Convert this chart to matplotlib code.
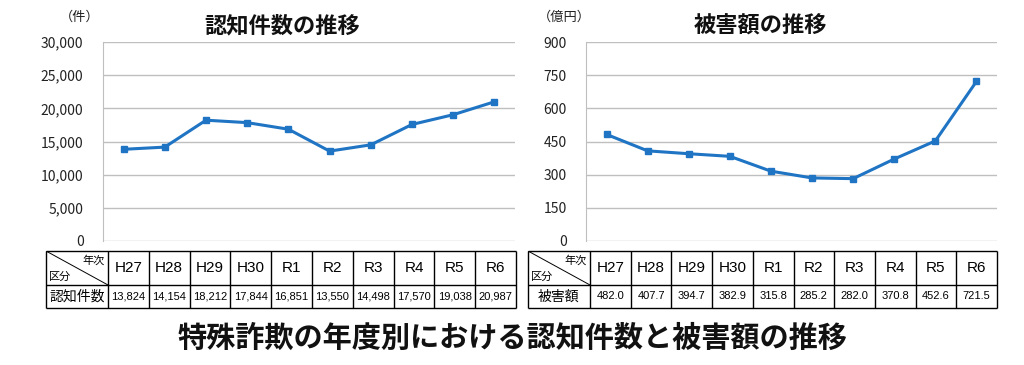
import matplotlib
matplotlib.use("Agg")
import matplotlib.pyplot as plt
from matplotlib.ticker import StrMethodFormatter

plt.rcParams['font.family'] = ['Noto Sans CJK JP', 'DejaVu Sans']

years = ["H27", "H28", "H29", "H30", "R1", "R2", "R3", "R4", "R5", "R6"]
cases = [13824, 14154, 18212, 17844, 16851, 13550, 14498, 17570, 19038, 20987]
damage = [482.0, 407.7, 394.7, 382.9, 315.8, 285.2, 282.0, 370.8, 452.6, 721.5]
case_labels = ["13,824", "14,154", "18,212", "17,844", "16,851",
               "13,550", "14,498", "17,570", "19,038", "20,987"]
damage_labels = ["482.0", "407.7", "394.7", "382.9", "315.8",
                 "285.2", "282.0", "370.8", "452.6", "721.5"]

W, H = 1024, 365
LINE = "#1f74c4"
GRID = "#bfbfbf"
LATIN = ['Liberation Sans', 'Noto Sans CJK JP']
NARROW = ['Liberation Sans Narrow', 'Liberation Sans', 'Noto Sans CJK JP']

fig = plt.figure(figsize=(W / 100, H / 100), dpi=100)


def px_axes(x0, y0, x1, y1):
    # pixel box (top-left origin) -> figure axes
    return fig.add_axes([x0 / W, 1 - y1 / H, (x1 - x0) / W, (y1 - y0) / H])


def line_chart(box, values, ymax, step, fmt, title, unit, title_x, unit_x):
    ax = px_axes(*box)
    ax.plot(range(len(values)), values, color=LINE, lw=2.2, marker="s",
            ms=5, clip_on=False)
    ax.set_xlim(-0.5, len(values) - 0.5)
    ax.set_ylim(0, ymax)
    ax.set_yticks(range(0, ymax + 1, step))
    ax.yaxis.set_major_formatter(StrMethodFormatter(fmt))
    ax.set_xticks([])
    ax.grid(axis="y", color=GRID, lw=1)
    ax.set_axisbelow(True)
    for s in ["top", "right", "bottom"]:
        ax.spines[s].set_visible(False)
    ax.spines["left"].set_color(GRID)
    ax.tick_params(axis="y", length=0, pad=14, labelsize=10, labelcolor="#222222")
    fig.text(title_x / W, 1 - 26 / H, title, ha="center", va="center",
             fontsize=16, fontweight="bold", color="#111111")
    fig.text(unit_x / W, 1 - 17 / H, unit, ha="center", va="center",
             fontsize=9.5, color="#222222")
    return ax


def table(x0, x_first, x1, row_label, labels):
    y0, ym, y1 = 251, 285, 308
    ax = px_axes(x0, y0, x1, y1)
    ax.set_xlim(x0, x1)
    ax.set_ylim(y1, y0)
    ax.axis("off")
    n = len(years)
    cw = (x1 - x_first) / n
    kw = dict(color="black", lw=1.0, clip_on=False)
    ax.hlines([y0, ym, y1], x0, x1, **kw)
    xs = [x0, x_first] + [x_first + cw * (i + 1) for i in range(n)]
    ax.vlines(xs, y0, y1, **kw)
    ax.plot([x0, x_first], [y0, ym], color="black", lw=0.7)
    ax.text(x_first - 3, y0 + 9, "年次", ha="right", va="center", fontsize=8)
    ax.text(x0 + 3, ym - 8, "区分", ha="left", va="center", fontsize=8)
    ax.text((x0 + x_first) / 2, (ym + y1) / 2, row_label, ha="center",
            va="center", fontsize=10)
    for i, (yr, lab) in enumerate(zip(years, labels)):
        cx = x_first + cw * (i + 0.5)
        ax.text(cx, (y0 + ym) / 2, yr, ha="center", va="center",
                fontsize=11, family=LATIN)
        ax.text(cx, (ym + y1) / 2, lab, ha="center", va="center",
                fontsize=8, family=NARROW)


line_chart((103, 42, 515, 241), cases, 30000, 5000, "{x:,.0f}",
           "認知件数の推移", "（件）", 282, 80)
line_chart((586, 42, 997, 241), damage, 900, 150, "{x:.0f}",
           "被害額の推移", "（億円）", 760, 564)

table(46, 108, 516, "認知件数", case_labels)
table(528, 590, 997, "被害額", damage_labels)

fig.text(0.5, 1 - 338 / H, "特殊詐欺の年度別における認知件数と被害額の推移",
         ha="center", va="center", fontsize=21, fontweight="bold",
         color="#111111")

fig.savefig("out.png", dpi=100, facecolor="white")
